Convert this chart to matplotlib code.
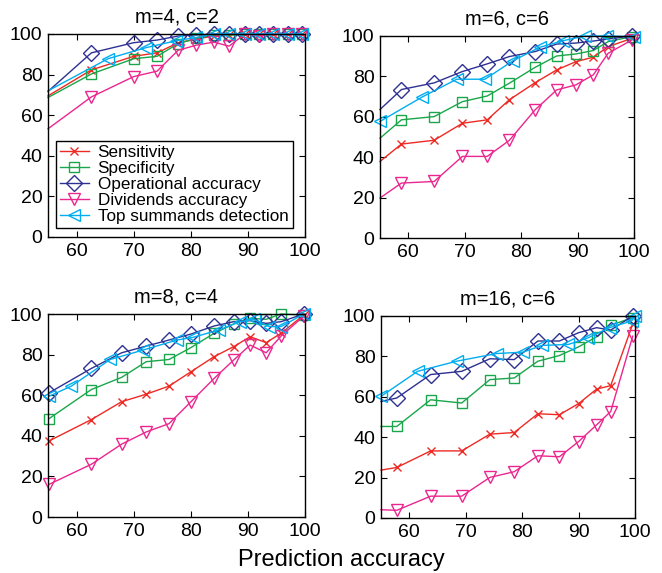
import numpy as np
import matplotlib
matplotlib.use("Agg")
import matplotlib.pyplot as plt

plt.rcParams['font.family'] = ['Liberation Sans', 'DejaVu Sans']

TITLES = ["m=4, c=2", "m=6, c=6", "m=8, c=4", "m=16, c=6"]
LABELS = ["Sensitivity", "Specificity", "Operational accuracy",
          "Dividends accuracy", "Top summands detection"]

# x positions (prediction accuracy) for the first four curves, per panel
X_MAIN = [
  [55, 62.6, 70, 74.1, 77.8, 81, 84, 86.7, 89.5, 92, 94.4, 97, 99.5],
  [55, 58.8, 64.6, 69.6, 74, 77.9, 82.5, 86.3, 89.7, 92.8, 95.4, 99.6],
  [55.2, 62.6, 67.9, 72.2, 76.2, 80, 84.1, 87.5, 90.4, 93.2, 95.8, 99.8],
  [55, 57.8, 63.8, 69.3, 74.3, 78.6, 82.8, 86.6, 90, 93.2, 95.7, 99.6],
]
# x positions for the top summands curve, per panel
X_TOP = [
  [55, 65.5, 72.2, 77.5, 81, 84, 86.7, 89.5, 92, 94.4, 97, 99.5],
  [55, 62.4, 68.6, 73.6, 78.6, 83.3, 87.5, 91.3, 95.2, 100],
  [55.2, 59.1, 65.9, 71.6, 77.6, 80.4, 84.9, 88.6, 91, 93.7, 95.8, 99.8],
  [55, 61.5, 68.4, 75.5, 80.2, 83.5, 88.2, 91.7, 95.5, 99.4, 100],
]

SENS = [
  [69.5, 82.3, 89, 90.7, 95.7, 97.5, 99, 99.5, 100, 100, 100, 100, 100],
  [37.9, 46.5, 48.4, 56.8, 58.5, 68.4, 76.9, 83.2, 87.3, 89.5, 94.7, 98.8],
  [37.5, 48, 56.8, 60.5, 64.5, 71.5, 79, 83.9, 88.8, 85.9, 90.5, 99.5],
  [23.7, 25, 33.2, 33.2, 41.5, 42.3, 51.6, 51.1, 56.6, 63.8, 65.5, 96],
]
SPEC = [
  [68.7, 80.3, 87.8, 89, 95.3, 97.8, 99.5, 99.5, 100, 100, 100, 100, 100],
  [49.4, 58.5, 60.1, 67.5, 70.3, 76.6, 84.5, 90.1, 91.1, 92.8, 97.2, 99.7],
  [48.5, 62.8, 68.8, 76.5, 77.6, 83.4, 90.5, 95.1, 97.9, 97.4, 100, 99.5],
  [45.3, 45.3, 58.5, 56.9, 68.5, 69.3, 77.6, 80.4, 84.7, 89.7, 95.4, 99.2],
]
OPER = [
  [71.7, 90.7, 95.7, 97, 99, 99.5, 100, 100, 100, 100, 100, 100, 100],
  [63.6, 73.5, 76.8, 82.4, 86.2, 89.8, 92.3, 96, 96.5, 97.5, 98.5, 100],
  [61.2, 73.2, 80.9, 84.2, 87.2, 90.1, 94.1, 96.2, 96.7, 95.4, 96.2, 100],
  [57.7, 59.4, 71, 72.6, 78.8, 78.4, 87.6, 87.6, 91.7, 94.2, 93, 100],
]
DIVID = [
  [53.3, 69, 79, 81.7, 92, 94.5, 96, 94, 100, 99, 100, 100, 100],
  [19.8, 27.2, 28, 40.4, 40.4, 48.3, 63.5, 73.3, 75.8, 80.8, 91.4, 98],
  [16.1, 26, 35.9, 41.9, 46, 56.7, 68.3, 77.3, 84.7, 80.9, 89.1, 99],
  [4.1, 3.8, 10.8, 10.8, 20.1, 22.9, 30.8, 30.3, 37.8, 46.1, 52.7, 90],
]
TOP = [
  [72, 87.8, 93.3, 96.7, 98.3, 100, 100, 100, 100, 100, 100, 100],
  [57.7, 69.7, 78.6, 78.6, 87.8, 94.4, 97.7, 100, 100, 99.7],
  [59.5, 64.5, 77.6, 82.2, 87.2, 88.5, 92.1, 96.2, 97.4, 93.8, 93.8, 100],
  [60.2, 72.6, 77.6, 81.4, 82.1, 85.4, 85.9, 89.2, 94.2, 97.5, 100],
]

COLORS = ['#ee2a24', '#1aa64a', '#2e3192', '#ec268f', '#00aeef']
MARKERS = ['x', 's', 'D', 'v', '<']
MSIZES = [6, 7, 8, 9, 9]

# axes boxes [left, bottom, width, height] in figure fraction
BOXES = [
  [0.0725, 0.5864, 0.3882, 0.3543],
  [0.5740, 0.5846, 0.3837, 0.3526],
  [0.0725, 0.0977, 0.3882, 0.3543],
  [0.5755, 0.0960, 0.3837, 0.3526],
]
# first point lies on the left edge, its marker is outside the view
SKIP_MAIN = [True, True, False, True]
SKIP_TOP = [True, False, False, False]

fig = plt.figure(figsize=(6.62, 5.73), dpi=100)

for p in range(4):
  ax = fig.add_axes(BOXES[p])
  series = [SENS[p], SPEC[p], OPER[p], DIVID[p], TOP[p]]
  for i in range(5):
    if i < 4:
      xs = X_MAIN[p]
      skip = SKIP_MAIN[p]
    else:
      xs = X_TOP[p]
      skip = SKIP_TOP[p]
    me = slice(1, None) if skip else None
    mfc = COLORS[i] if MARKERS[i] == 'x' else 'none'
    ax.plot(xs, series[i], color=COLORS[i], marker=MARKERS[i],
            markersize=MSIZES[i], markerfacecolor=mfc,
            markeredgecolor=COLORS[i], markeredgewidth=1.0,
            linewidth=1.0, markevery=me, label=LABELS[i], clip_on=False)

  ax.set_xlim(55, 100)
  ax.set_ylim(0, 100)
  ax.set_xticks([60, 70, 80, 90, 100])
  ax.set_yticks([0, 20, 40, 60, 80, 100])
  ax.tick_params(direction='in', top=True, right=True, length=4,
                 labelsize=14, pad=4)
  for s in ax.spines.values():
    s.set_linewidth(1.0)
  ax.set_title(TITLES[p], fontsize=14.5, pad=8)

  if p == 0:
    leg = ax.legend(loc='lower left', bbox_to_anchor=(0.03, 0.045),
                    borderaxespad=0, fontsize=12.3, handlelength=1.7,
                    labelspacing=0.05, handletextpad=0.5,
                    borderpad=0.25, fancybox=False, framealpha=1)
    leg.get_frame().set_edgecolor('black')
    leg.get_frame().set_linewidth(1.0)

fig.text(0.515, 0.003, "Prediction accuracy", ha='center', va='bottom',
         fontsize=17)

plt.savefig("out.png", dpi=100)
